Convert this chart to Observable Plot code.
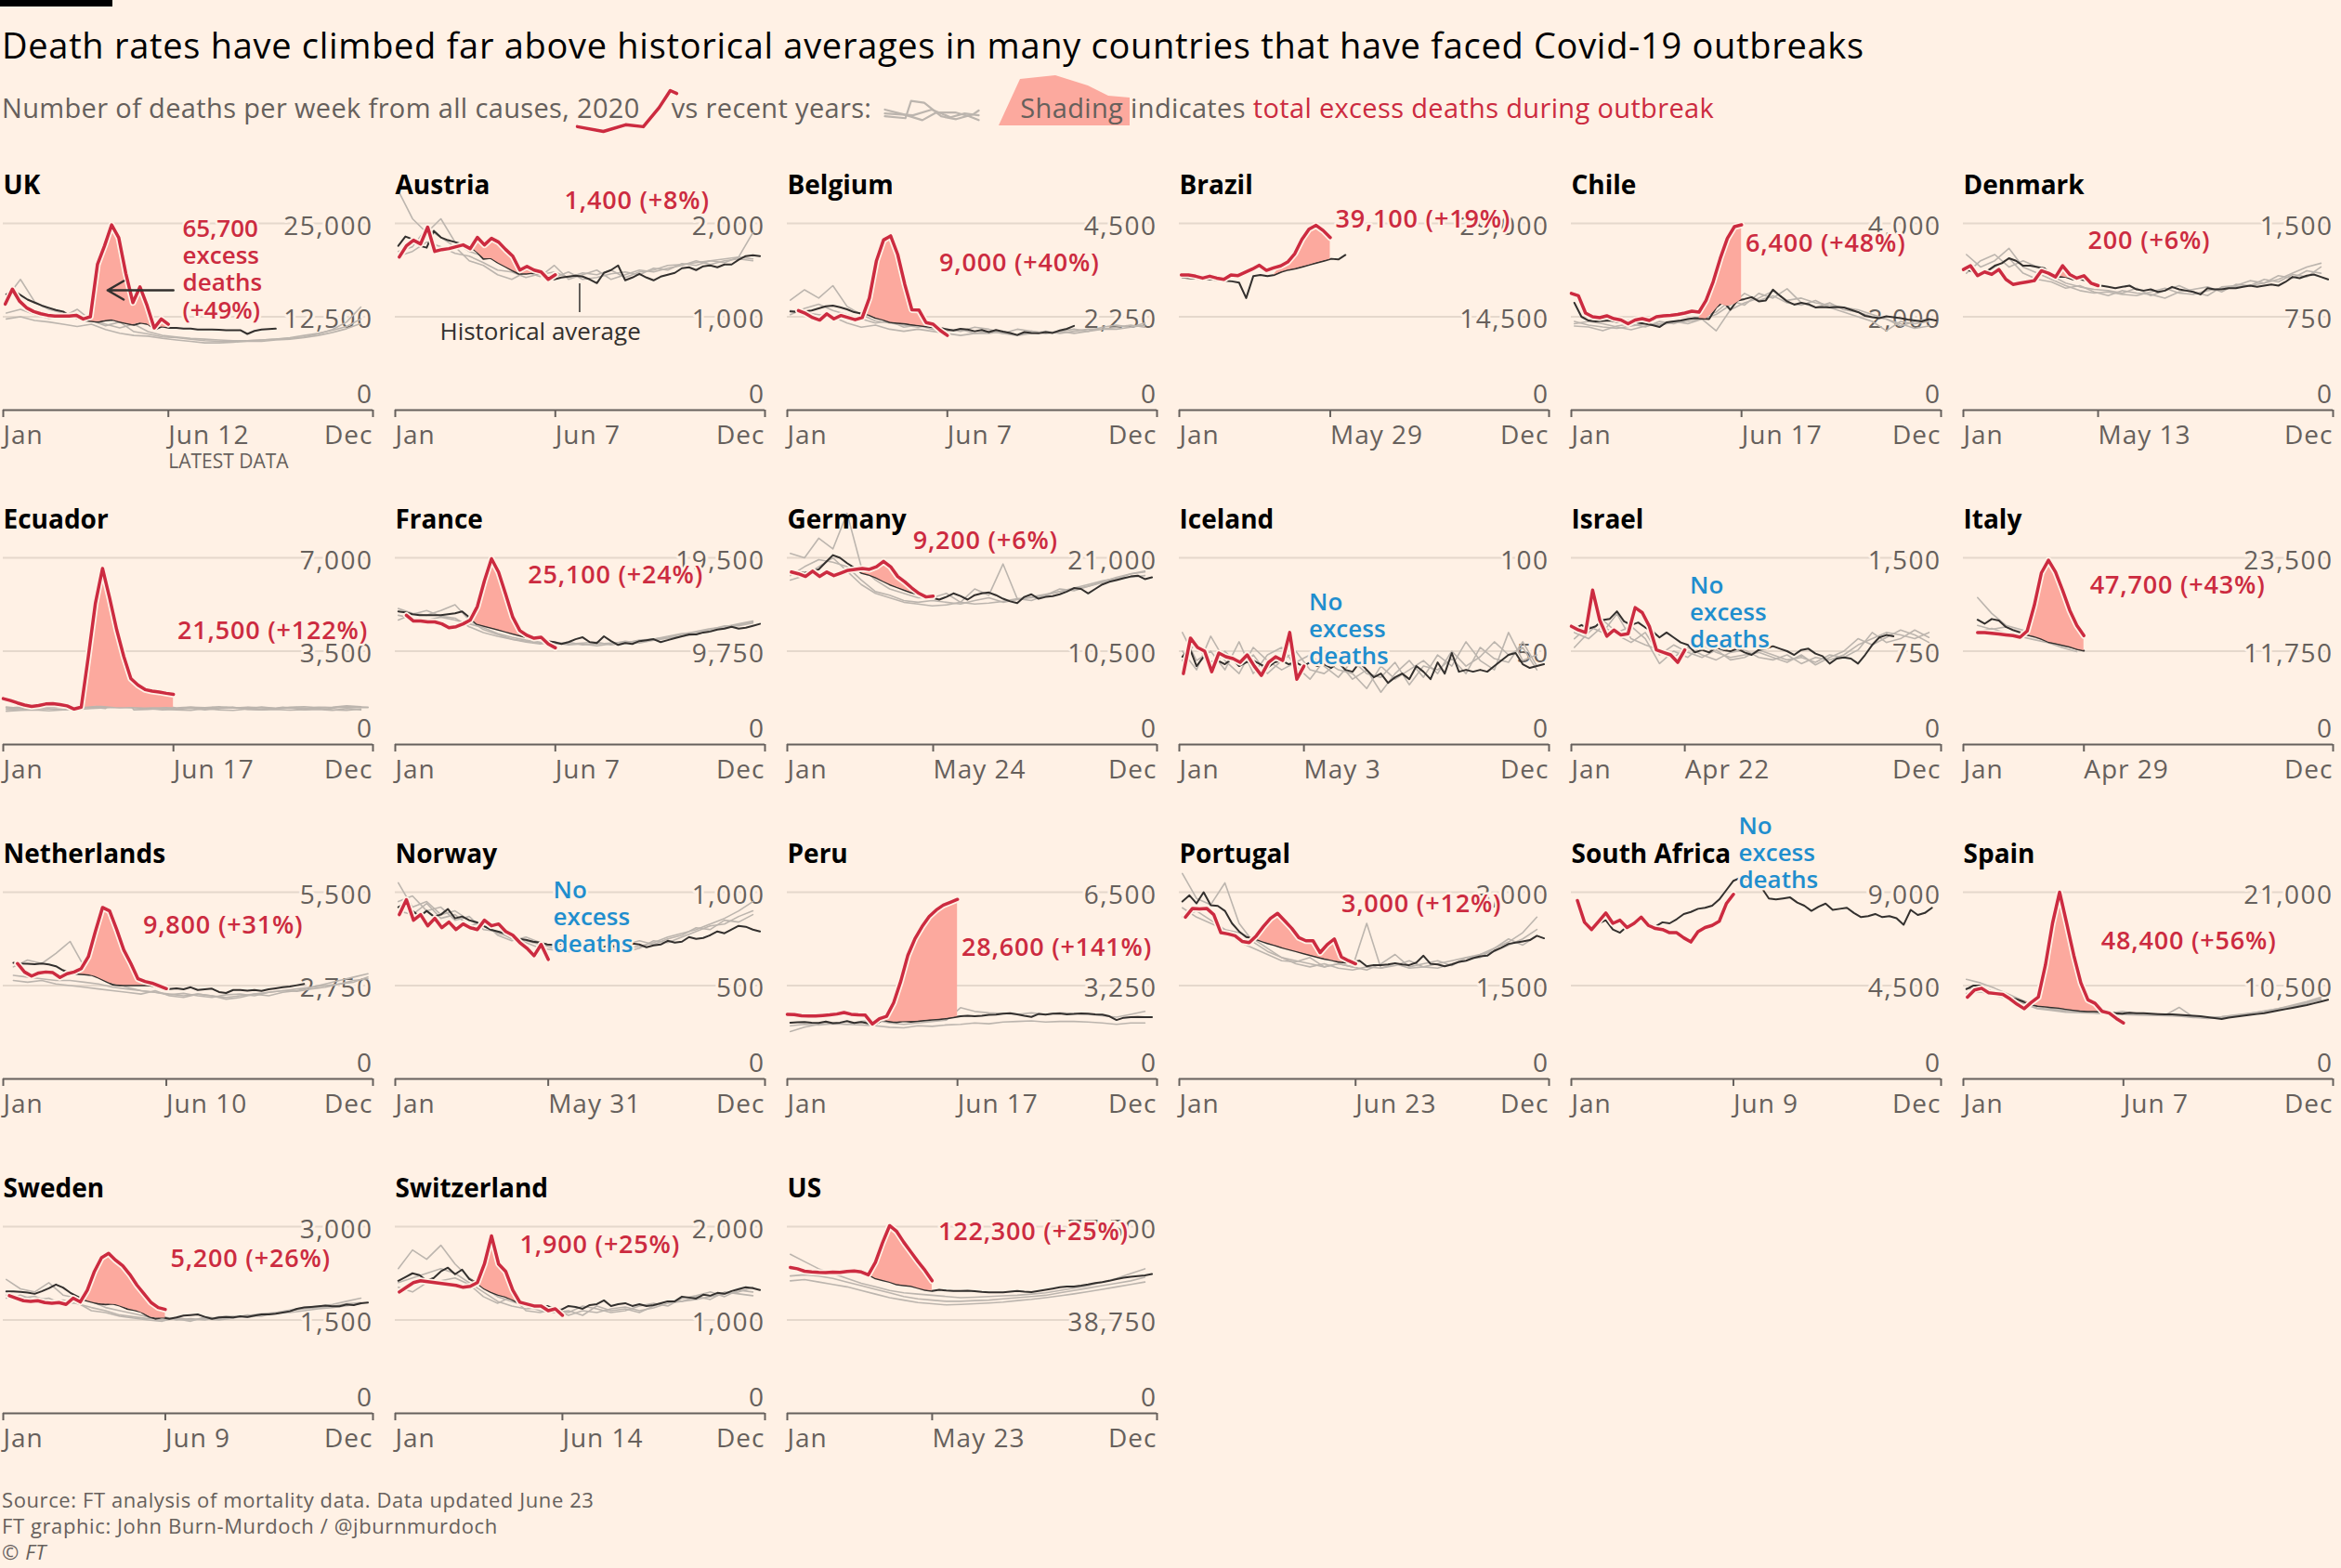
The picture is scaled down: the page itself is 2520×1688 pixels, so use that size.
<!DOCTYPE html>
<html>
<head>
<meta charset="utf-8">
<script src="https://cdn.jsdelivr.net/npm/d3@7"></script>
<script src="https://cdn.jsdelivr.net/npm/@observablehq/plot@0.6"></script>
<style>
html,body{margin:0;padding:0;background:#fff1e5;}
body{width:2520px;height:1688px;position:relative;overflow:hidden;font-family:'Open Sans',Roboto,sans-serif;}
#bar{position:absolute;left:0;top:0;width:121px;height:7px;background:#000;}
#title{position:absolute;left:2px;top:29px;font-size:38px;letter-spacing:0.7px;line-height:1;color:#000;white-space:nowrap;}
#sub{position:absolute;left:2px;top:101px;font-size:29px;letter-spacing:0.35px;line-height:1;color:#66605c;white-space:nowrap;}
#sub .t{position:relative;z-index:1;}
#sub .anc{display:inline-block;position:relative;height:1px;vertical-align:baseline;}
#sub .ic{position:absolute;z-index:0;}
#sub .red{color:#cc2b40;}
.panel{position:absolute;width:422px;height:375px;}
#foot{position:absolute;left:2px;top:1600px;font-size:22px;letter-spacing:0.6px;line-height:28px;color:#66605c;}
</style>
</head>
<body>
<div id="bar"></div>
<div id="title">Death rates have climbed far above historical averages in many countries that have faced Covid-19 outbreaks</div>
<div id="sub"><span class="t">Number of deaths per week from all causes, </span><span class="anc" style="width:0"><span class="ic" id="icRed" style="left:-2px;top:-32px"></span></span><span class="t" style="margin-right:34px">2020</span><span class="t">vs recent years:</span><span class="anc" style="width:137px"><span class="ic" id="icGrey" style="left:12px;top:-24px"></span></span><span class="anc" style="width:23px"><span class="ic" id="icShade" style="left:0;top:-45px"></span></span><span class="t">Shading</span><span class="t"> indicates </span><span class="t red">total excess deaths during outbreak</span></div>
<div id="panels"></div>
<div id="foot">Source: FT analysis of mortality data. Data updated June 23<br>FT graphic: John Burn-Murdoch / @jburnmurdoch<br>© <i>FT</i></div>
<script>
// ---------------- DATA ----------------
const countries = ["UK","Austria","Belgium","Brazil","Chile","Denmark","Ecuador","France","Germany","Iceland","Israel","Italy","Netherlands","Norway","Peru","Portugal","South Africa","Spain","Sweden","Switzerland","US"];
const topTicks = [25000,2000,4500,29000,4000,1500,7000,19500,21000,100,1500,23500,5500,1000,6500,3000,9000,21000,3000,2000,77500];
const latestData = ["Jun 12","Jun 7","Jun 7","May 29","Jun 17","May 13","Jun 17","Jun 7","May 24","May 3","Apr 22","Apr 29","Jun 10","May 31","Jun 17","Jun 23","Jun 9","Jun 7","Jun 9","Jun 14","May 23"];
const averageStarts = ["Jan 4","Jan 4","Jan 4","Jan 4","Jan 4","Jan 4","Jan 4","Jan 4","Jan 4","Jan 4","Jan 4","Jan 15","Jan 11","Jan 4","Jan 4","Jan 4","Jan 7","Jan 4","Jan 4","Jan 4","Jan 4"];
const outbreakStarts = ["Mar 20","Mar 16","Mar 19","Apr 10","May 11","Mar 15","Mar 19","Mar 22","Mar 15",null,null,"Mar 1","Mar 15",null,"Apr 5","Mar 1",null,"Mar 8","Mar 15","Mar 15","Mar 15"];
const excessLabels = ["65,700\nexcess\ndeaths\n(+49%)","1,400 (+8%)","9,000 (+40%)","39,100 (+19%)","6,400 (+48%)","200 (+6%)","21,500 (+122%)","25,100 (+24%)","9,200 (+6%)","No\nexcess\ndeaths","No\nexcess\ndeaths","47,700 (+43%)","9,800 (+31%)","No\nexcess\ndeaths","28,600 (+141%)","3,000 (+12%)","No\nexcess\ndeaths","48,400 (+56%)","5,200 (+26%)","1,900 (+25%)","122,300 (+25%)"];
const averageInGrey = ["Ecuador"];

const UK_2020 = [14200,16200,14600,13700,13200,12900,12700,12600,12600,12600,12700,12200,12500,19500,22000,24800,23100,18300,14400,16500,14000,11000,12200,11500];
const UK_AVG = [15500,16000,15400,14800,14400,14000,13700,13400,13200,12600,12300,12000,11900,11800,12000,12100,11800,11600,11400,11700,11500,10800,11200,11000,11000,10900,10900,10800,10800,10800,10750,10700,10700,10700,10200,10600,10800,10850,10900];
const UK_RECENT = [
 [15000,17500,14500,13500,13000,12500,12000,11500,11000,11500,10500,10000,9800,9600,9500,9400,9300,9300,9400,9500,9600,9800,10200,10800,11800,13800],
 [13000,13500,12800,12300,12500,13500,12000,11300,11800,10500,10200,9800,9700,9500,9300,9200,9200,9300,9400,9500,9700,10000,10300,10700,11200,12200],
 [12200,12500,12000,11800,11500,11200,11500,10800,10300,10000,9900,9600,9400,9200,9000,9000,9100,9200,9200,9400,9500,9700,10000,10400,10900,11600]];

const AUSTRIA_2020 = [1640,1760,1820,1780,1960,1700,1720,1730,1750,1770,1730,1850,1770,1840,1800,1720,1650,1500,1540,1500,1480,1400,1450];
const AUSTRIA_AVG = [1760,1860,1830,1760,1740,1920,1850,1820,1800,1780,1760,1700,1620,1630,1580,1540,1500,1460,1460,1470,1460,1435,1400,1420,1430,1440,1430,1400,1360,1470,1500,1550,1390,1420,1460,1420,1390,1430,1450,1470,1520,1530,1500,1540,1550,1530,1560,1560,1610,1650,1660,1650];
const AUSTRIA_RECENT = [
 [2350,2050,1900,2050,1800,1700,1650,1600,1550,1500,1450,1480,1420,1470,1450,1500,1420,1480,1500,1550,1560,1580,1600,1620,1640,1900],
 [1700,1750,1950,1850,1750,1600,1550,1450,1400,1480,1430,1550,1400,1450,1500,1400,1450,1500,1480,1520,1550,1600,1560,1600,1620,1600],
 [1650,1700,1800,1750,1680,1650,1580,1500,1480,1420,1460,1420,1480,1400,1420,1460,1480,1450,1520,1500,1570,1550,1600,1580,1640,1620]];

const BELGIUM_2020 = [2400,2330,2230,2170,2320,2200,2280,2230,2180,2230,2700,3600,4100,4200,3750,3030,2420,2410,2110,2070,1920,1800];
const BELGIUM_AVG = [2380,2370,2380,2400,2450,2500,2520,2480,2430,2360,2330,2300,2220,2180,2120,2100,2090,2060,2040,2020,2000,1980,1950,1920,1960,1940,1900,1930,1880,1930,1890,1860,1810,1880,1860,1850,1880,1860,1920,1960,2030];
const BELGIUM_RECENT = [
 [2650,2900,2700,3000,2500,2300,2150,2100,2050,2000,2050,1950,1900,2000,1950,1850,1950,1900,1850,1900,1950,1900,2000,2050,2000,2050],
 [2300,2450,2550,2400,2300,2200,2100,2150,2000,2050,1950,1900,1950,1850,1850,1900,1800,1850,1900,1850,1900,1950,1950,2000,2050,2000],
 [2400,2350,2300,2250,2100,2000,2050,1950,1900,1950,1900,1850,1800,1850,1900,1850,1800,1900,1850,1900,1850,1900,1950,1950,2000,2100]];

const BRAZIL_2020 = [21000,21000,20800,20500,20800,20500,20300,21000,20900,21400,21900,22500,21700,22100,22400,23000,24300,26500,28100,28700,27900,26800];
const BRAZIL_AVG = [20600,20500,20400,20300,20300,20200,20100,20000,19800,17400,20800,21000,20800,21000,21500,21800,22000,22300,22600,22900,23200,23500,23400,24100];
const BRAZIL_RECENT = [];

const CHILE_2020 = [2500,2450,2080,2000,1980,2020,1960,1930,1850,1930,1960,1920,2000,2020,2030,2050,2080,2120,2100,2350,2750,3250,3680,3930,3970];
const CHILE_AVG = [2300,2000,1920,1900,1910,1920,1890,1900,1910,1870,1850,1820,1780,1880,1900,1920,1950,1970,1960,1950,2200,2320,2150,2350,2380,2420,2330,2350,2580,2450,2330,2260,2300,2270,2200,2210,2200,2210,2200,2150,2100,2020,1990,1970,2010,1990,1970,1940,1920,1900,1950,1920];
const CHILE_RECENT = [
 [1900,1820,1780,1750,1800,1850,1820,1880,1900,1950,1700,2150,2300,2400,2550,2350,2400,2300,2250,2200,2150,2050,1950,1850,1750,1800],
 [1850,1900,1850,1780,1720,1800,1850,1900,1850,1950,2050,2250,2500,2350,2450,2300,2250,2350,2200,2100,2000,1900,1700,1900,1850,1900],
 [1800,1780,1700,1800,1850,1780,1900,1850,1950,2000,2100,2350,2250,2500,2400,2600,2300,2200,2300,2150,2100,2000,1950,1800,1900,1950]];

const DENMARK_2020 = [1130,1160,1080,1110,1090,1130,1050,1010,1020,1030,1040,1120,1100,1070,1160,1090,1060,1080,1020,1000];
const DENMARK_AVG = [1130,1110,1100,1120,1160,1180,1220,1200,1160,1160,1150,1140,1090,1070,1070,1050,1050,1040,1020,1000,990,980,990,1000,970,960,970,950,960,990,970,960,950,930,980,970,970,980,980,990,1000,990,1000,1010,1000,1030,1070,1060,1080,1090,1070,1050];
const DENMARK_RECENT = [
 [1250,1150,1200,1300,1150,1100,1050,1000,960,940,950,930,920,950,980,940,930,960,980,990,1000,1020,1050,1100,1150,1180],
 [1100,1200,1250,1150,1200,1150,1080,1020,990,970,960,940,980,920,960,1000,950,920,990,1000,1040,1020,1080,1060,1120,1100],
 [1150,1080,1150,1220,1100,1050,1030,980,1000,950,920,960,940,930,900,950,970,990,950,1010,1000,1050,1030,1090,1070,1150]];

const ECUADOR_2020 = [1720,1650,1560,1480,1430,1460,1520,1530,1500,1450,1330,1400,3300,5300,6600,5500,4300,3300,2470,2230,2060,2000,1970,1920,1880];
const ECUADOR_AVG = [1400,1380,1400,1420,1390,1400,1410,1380,1400,1420,1380,1400,1420,1450,1430,1400,1380,1390,1400,1380,1370,1390,1380,1400,1370,1380,1390,1370,1360,1380,1370,1390,1380,1360,1380,1370,1400,1380,1360,1390,1370,1380,1360,1370,1390,1380,1370,1400,1380,1390,1400,1390];
const ECUADOR_RECENT = [
 [1320,1300,1350,1330,1300,1380,1400,1350,1950,1300,1320,1350,1300,1280,1350,1300,1280,1330,1300,1320,1290,1310,1350,1300,1280,1330],
 [1250,1280,1300,1260,1300,1320,1350,1380,1400,1380,1350,1300,1320,1360,1300,1350,1400,1320,1300,1350,1380,1300,1320,1280,1350,1300],
 [1380,1350,1400,1380,1420,1400,1380,1420,1450,1430,1400,1380,1350,1400,1380,1420,1370,1400,1380,1350,1400,1420,1380,1400,1450,1420]];

const FRANCE_2020 = [13500,12900,12900,12800,12800,12600,12200,12300,12600,13000,14400,17100,19400,18000,15700,13300,11900,11400,11100,11200,10500,10100];
const FRANCE_AVG = [13900,13800,13600,13500,13500,13500,13500,13600,13700,13900,13300,12600,12400,12200,12000,11800,11600,11400,11200,11100,11000,10800,10700,10500,10700,11000,11200,10700,10600,11300,10800,10400,10600,10500,10800,10900,11000,10700,10900,11100,11300,11500,11500,11700,11800,12000,12100,12300,12100,12200,12400,12600];
const FRANCE_RECENT = [
 [14200,13700,13500,14000,14600,13000,12000,11500,11000,10800,10600,10500,10700,10400,10500,10600,10700,10800,11000,11200,11500,11800,12100,12300,12600,12900],
 [13500,13200,13000,13300,13000,12600,12200,11600,11200,10900,10700,10600,10400,10500,10300,10500,10800,10600,10900,11100,11300,11500,11900,12200,12500,12800],
 [13000,13600,14000,13400,13200,12300,11700,11300,11000,10700,10500,10700,10500,10600,10700,10400,10600,10900,11000,11300,11600,11700,12000,12400,12400,12700]];

const GERMANY_2020 = [19400,19200,18900,19500,18900,19400,19000,19300,19600,19700,19800,19700,20000,20600,20000,18900,18300,17600,17000,16600,16700];
const GERMANY_AVG = [19500,19400,19300,19500,19700,20500,21300,21000,20400,19900,19300,19100,18800,18400,18000,17700,17400,17100,16900,16800,16500,16300,16600,17000,16700,16300,16800,17000,17100,16800,16400,16100,15900,16600,16900,16400,16600,16700,16900,17200,17600,17500,17000,17500,18000,18300,18500,18700,18900,19000,18600,18800];
const GERMANY_RECENT = [
 [21500,21000,23200,22000,26000,20000,18500,17500,17000,16500,16500,17000,16000,17500,16800,20300,16400,16500,16800,17200,17500,17800,18300,18800,19200,19500],
 [19000,20000,20800,20500,20000,18500,17200,16800,16200,16000,16200,16000,15800,16200,16500,16000,16300,16600,16900,17200,17600,18000,18400,18700,18800,19000],
 [18500,19000,20000,21000,19500,18000,17000,16500,16000,15800,15600,15700,16000,15800,15900,16100,16400,16200,16800,17500,17300,17800,18200,18600,19200,19400]];

const ICELAND_2020 = [38,57,52,50,39,49,47,46,44,48,42,37,44,47,45,60,35,42];
const ICELAND_AVG = [47,52,42,47,44,45,43,46,42,44,45,43,41,44,45,43,44,42,44,42,43,41,44,40,39,44,40,36,38,33,36,38,35,42,39,35,44,38,49,39,40,39,40,39,42,45,48,49,43,41,42,43];
const ICELAND_RECENT = [
 [60,45,50,40,55,38,48,52,42,35,45,40,38,30,42,35,40,45,38,50,42,47,55,48,52,40],
 [45,55,40,50,42,48,38,45,50,40,38,44,35,40,28,38,45,36,48,42,55,45,40,60,45,48],
 [50,40,58,45,38,52,45,40,44,48,42,36,45,38,36,44,32,42,40,46,38,52,46,44,55,42]];

const ISRAEL_2020 = [950,920,900,1240,1000,870,920,880,890,1100,1060,950,760,740,720,660,760];
const ISRAEL_AVG = [930,960,930,950,1000,1010,1070,990,960,980,940,910,860,900,860,820,800,740,760,740,780,760,750,770,740,720,760,770,790,770,750,720,760,770,730,710,650,690,700,690,650,720,800,860,880,870];
const ISRAEL_RECENT = [
 [850,950,900,1050,850,800,760,700,780,720,680,740,760,700,680,720,650,700,680,720,800,850,900,880,850,900],
 [780,900,1000,900,950,850,650,750,700,800,740,700,720,740,700,660,720,640,700,750,850,800,860,920,880,820],
 [900,850,950,880,820,900,720,800,740,700,760,680,700,760,720,680,700,660,720,700,760,900,820,850,920,860]];

const ITALY_2020 = [14100,14100,14000,13900,13800,13700,13500,14300,17500,21600,23200,21700,19400,16900,15000,13700];
const ITALY_AVG = [15700,15200,15800,15600,14800,14400,14100,13800,13600,13300,12900,12700,12500,12300,12000,11800];
const ITALY_RECENT = [
 [18500,16500,15000,14500,14000,13200,12600,12000],
 [15000,14500,14800,14200,13500,13000,12400,12100],
 [14200,14600,14000,13600,13200,12800,12200,11700]];

const NETHERLANDS_2020 = [3400,3150,3030,3120,3150,3130,2990,3100,3150,3250,3600,4350,5050,4950,4400,3800,3400,2950,2870,2820,2740,2660];
const NETHERLANDS_AVG = [3420,3400,3390,3380,3400,3370,3320,3200,3120,3090,3080,3060,2980,2880,2780,2760,2760,2760,2760,2760,2720,2680,2650,2670,2640,2700,2620,2640,2660,2560,2530,2620,2620,2600,2620,2590,2640,2670,2700,2720,2760,2800];
const NETHERLANDS_RECENT = [
 [3300,3500,3400,3700,4050,3300,3000,2850,2700,2600,2550,2500,2450,2500,2450,2400,2450,2500,2550,2600,2650,2700,2800,2900,3000,3100],
 [3050,3000,2950,2900,2900,2850,2800,2700,2650,2600,2550,2480,2520,2450,2400,2480,2500,2450,2550,2600,2580,2650,2700,2800,2900,2950],
 [2900,2850,2900,2800,2750,2700,2650,2600,2550,2500,2600,2450,2400,2500,2450,2350,2400,2500,2450,2550,2600,2700,2750,2800,2850,3000]];

const NORWAY_2020 = [880,960,850,880,820,860,810,840,800,830,810,800,850,820,830,790,770,730,700,660,720,640];
const NORWAY_AVG = [920,940,900,870,900,870,880,910,860,870,850,840,820,800,790,780,770,750,745,735,730,720,718,725,720,730,720,710,720,705,715,700,710,725,720,705,715,720,740,730,735,760,750,755,770,790,780,800,820,815,800,790];
const NORWAY_RECENT = [
 [1050,920,950,880,900,850,820,780,760,730,700,690,710,680,700,720,700,710,730,760,780,800,830,860,900,950],
 [950,980,900,920,850,870,800,790,750,740,720,700,680,700,720,690,720,740,720,750,770,810,800,850,840,880],
 [900,880,940,860,880,820,840,770,740,760,730,710,700,690,710,700,680,700,740,730,760,790,820,830,870,900]];

const PERU_2020 = [2250,2240,2200,2190,2190,2210,2230,2260,2310,2250,2230,2220,1910,2100,2180,2650,3400,4300,4880,5300,5650,5880,6050,6150,6250];
const PERU_AVG = [1960,1970,1980,1960,1950,2000,1940,1960,2010,1950,1980,1930,1900,2050,2000,1970,2010,1990,2010,2040,2060,2080,2100,2140,2180,2200,2180,2200,2230,2240,2270,2290,2250,2200,2160,2260,2240,2270,2280,2250,2260,2280,2270,2250,2240,2180,2050,2130,2150,2160,2150,2150];
const PERU_RECENT = [
 [1650,1800,1900,1950,1900,2000,2050,1950,1900,1950,2000,2050,2480,2350,2300,2280,2250,2300,2250,2300,2280,2250,2200,2150,2250,2350],
 [1850,1900,1880,1920,1900,1880,1850,1800,1780,1850,1830,1880,1900,1950,1920,1980,2000,2020,1980,2000,2000,1980,1950,1900,1950,1950]];

const PORTUGAL_2020 = [2600,2740,2730,2740,2640,2350,2330,2300,2210,2190,2300,2450,2580,2660,2540,2420,2270,2220,2220,2030,2160,2250,1960,1900,1850];
const PORTUGAL_AVG = [2850,2950,2820,3000,2790,2780,2700,2500,2370,2280,2260,2220,2180,2150,2110,2080,2050,2020,1990,1960,1930,1910,1880,1870,1880,1900,1810,1830,1830,1840,1860,1840,1830,1870,1980,1850,1840,1810,1840,1880,1900,1940,1970,1980,2060,2110,2170,2190,2210,2230,2300,2260];
const PORTUGAL_RECENT = [
 [3300,2900,2800,3150,2500,2200,2050,1950,1900,1850,1800,1850,1800,2500,1780,1850,1780,1800,1850,1900,1950,2000,2100,2200,2350,2600],
 [2750,2600,2500,2400,2350,2250,2100,1950,1850,1800,1850,1780,1750,1800,1780,1820,1900,1800,1780,1850,1900,2000,2050,2150,2250,2400],
 [2600,2700,2550,2400,2200,2100,2000,1900,1880,1950,1800,1850,1800,1750,1850,2000,1800,1850,1900,1820,1950,1950,2100,2250,2150,2300]];

const SOUTH_AFRICA_2020 = [8600,7550,7200,7600,8000,7500,7650,7300,7500,7800,7400,7250,7200,7050,7050,6800,6600,7100,7300,7400,7600,8450,8900];
const SOUTH_AFRICA_AVG = [8500,7500,7150,7500,7650,7200,7050,7350,7600,7700,7500,7350,7550,7500,7700,7950,8050,8200,8250,8350,8650,9100,9550,9700,9600,9400,9200,8700,8650,8700,8750,8500,8350,8100,8300,8450,8150,8200,8250,8000,7800,7850,7950,7800,7850,7750,7430,8150,7900,8000,8250];
const SOUTH_AFRICA_RECENT = [];

const SPAIN_2020 = [9200,10000,10200,9700,9600,9500,9000,8400,7900,8600,9200,12800,17500,21000,17500,13900,10800,8900,8500,7600,7400,6800,6300];
const SPAIN_AVG = [10100,10500,10500,10000,9700,9500,9200,9000,8700,8400,8200,8150,8050,8000,7850,7750,7650,7600,7600,7550,7500,7400,7350,7450,7400,7380,7350,7300,7250,7250,7200,7150,7100,7050,6950,6850,6750,6900,7000,7100,7200,7300,7400,7550,7700,7850,8000,8150,8300,8500,8700,8900];
const SPAIN_RECENT = [
 [11200,10800,10200,9500,8800,8200,7900,7700,7600,7500,7400,7600,7300,7250,7200,7100,7000,6850,7000,7200,7400,7600,7900,8300,8700,9200],
 [10200,10000,9800,9200,8600,8000,7800,7600,7500,7450,7350,7300,7250,7200,7150,8050,6950,6800,6900,7100,7300,7500,7800,8100,8500,8900],
 [9600,9800,9400,9000,8500,7900,7700,7500,7450,7400,7300,7250,7200,7150,7100,7050,6900,6900,7000,7150,7350,7650,7900,8200,8600,9000]];

const SWEDEN_2020 = [1890,1850,1810,1800,1810,1780,1770,1780,1750,1850,1790,1980,2280,2500,2570,2460,2370,2230,2060,1920,1780,1700,1670];
const SWEDEN_AVG = [1960,1960,1950,1940,1920,1960,2010,2070,2020,1940,1880,1820,1790,1760,1750,1760,1730,1680,1660,1630,1560,1520,1540,1520,1540,1570,1580,1590,1550,1520,1540,1550,1540,1560,1550,1570,1590,1590,1600,1620,1640,1680,1700,1710,1720,1730,1720,1720,1750,1740,1770,1780];
const SWEDEN_RECENT = [
 [2150,2000,1950,2100,1900,1850,1800,1700,1650,1600,1550,1500,1520,1480,1550,1520,1540,1570,1600,1620,1660,1700,1720,1750,1800,1850],
 [1900,1850,1880,1800,1820,1760,1700,1650,1580,1550,1520,1560,1500,1520,1500,1550,1560,1540,1580,1600,1650,1680,1700,1720,1760,1780],
 [1850,1900,1820,1850,1750,1780,1650,1620,1560,1530,1500,1480,1540,1500,1520,1500,1530,1580,1560,1620,1620,1650,1680,1700,1730,1760]];

const SWITZERLAND_2020 = [1300,1350,1400,1420,1410,1400,1390,1380,1370,1350,1360,1400,1600,1900,1600,1520,1320,1190,1170,1150,1150,1100,1120,1050];
const SWITZERLAND_AVG = [1420,1460,1500,1480,1420,1450,1520,1560,1490,1540,1440,1400,1340,1300,1270,1250,1220,1180,1170,1165,1150,1150,1120,1110,1150,1140,1120,1160,1170,1210,1150,1170,1180,1150,1170,1150,1160,1180,1200,1200,1250,1240,1230,1270,1260,1290,1280,1310,1330,1350,1340,1320];
const SWITZERLAND_RECENT = [
 [1550,1750,1650,1800,1600,1450,1350,1250,1200,1150,1100,1080,1100,1050,1150,1100,1120,1080,1150,1200,1200,1220,1250,1280,1300,1350],
 [1400,1450,1500,1550,1500,1400,1300,1200,1150,1120,1130,1100,1080,1150,1120,1080,1100,1150,1180,1150,1230,1260,1300,1250,1320,1300],
 [1350,1300,1400,1420,1450,1380,1250,1180,1250,1100,1080,1120,1050,1100,1080,1120,1140,1100,1130,1180,1200,1250,1220,1300,1280,1260]];

const US_2020 = [60500,60000,59000,58700,58500,58400,58600,58500,58900,59100,58700,57500,62700,70800,77900,75500,71000,67000,63000,59300,55000];
const US_AVG = [60000,59800,59300,58900,58600,58400,58500,58400,58700,58800,58500,57600,56000,55200,54500,53500,53100,52800,52000,51200,50800,51300,51000,50800,50800,50900,50700,50400,50200,50200,50200,50500,50800,50500,50300,50800,51300,51800,52300,52600,52600,53000,53500,54100,54500,55000,55700,56300,56700,57000,57300,57800];
const US_RECENT = [
 [66000,63000,60000,58000,56000,54000,52500,51000,50000,49500,49000,48500,48000,48200,48500,48800,49000,49500,50000,51000,52000,53000,54500,56000,58000,60000],
 [57000,57500,57000,56000,54500,53000,51500,50000,48500,47500,47000,46500,46500,46800,47000,47500,48000,48500,49000,50000,51000,52000,53000,54000,55000,56500],
 [55000,55500,54500,53500,52500,51000,49500,48000,47000,46000,45500,45000,45200,45500,45800,46200,46800,47300,48000,48800,49600,50500,51500,52500,53500,54500]];

// legend glyphs in the subtitle
const legendRedX = [0,28,52,71,88,100,107];
const legendRedY = [5,0,7,5,25,43,40];
const legendGreyX = [[0,22,28,42,60,76,94,100],[0,20,40,55,75,90,100],[0,30,50,70,85,100]];
const legendGreyY = [[8,6,24,22,8,5,10,14],[15,10,4,12,12,8,4],[11,9,15,7,11,9]];
const legendShadeX = [0,23,61,96,118,141];
const legendShadeY = [0,50,54,43,32,30];

// annotation placement: [country, day of year, value]
const notePlacement = [
 ["UK",177,18900],["Austria",167,2249],["Belgium",150,3560],["Brazil",154,29720],["Chile",172,3582],["Denmark",123,1366],
 ["Ecuador",172,4284],["France",131,17754],["Germany",124,22985],["Iceland",128,62.2],["Israel",117,1067],["Italy",125,20110],
 ["Netherlands",138,4542],["Norway",156,871],["Peru",172,4592],["Portugal",160,2821],["South Africa",165,10925],["Spain",136,15567],
 ["Sweden",165,2493],["Switzerland",123,1811],["US",149,75572]];

// ---------------- TABLE ----------------
const SERIES = {
 "UK":[UK_2020,UK_AVG,UK_RECENT], "Austria":[AUSTRIA_2020,AUSTRIA_AVG,AUSTRIA_RECENT], "Belgium":[BELGIUM_2020,BELGIUM_AVG,BELGIUM_RECENT],
 "Brazil":[BRAZIL_2020,BRAZIL_AVG,BRAZIL_RECENT], "Chile":[CHILE_2020,CHILE_AVG,CHILE_RECENT], "Denmark":[DENMARK_2020,DENMARK_AVG,DENMARK_RECENT],
 "Ecuador":[ECUADOR_2020,ECUADOR_AVG,ECUADOR_RECENT], "France":[FRANCE_2020,FRANCE_AVG,FRANCE_RECENT], "Germany":[GERMANY_2020,GERMANY_AVG,GERMANY_RECENT],
 "Iceland":[ICELAND_2020,ICELAND_AVG,ICELAND_RECENT], "Israel":[ISRAEL_2020,ISRAEL_AVG,ISRAEL_RECENT], "Italy":[ITALY_2020,ITALY_AVG,ITALY_RECENT],
 "Netherlands":[NETHERLANDS_2020,NETHERLANDS_AVG,NETHERLANDS_RECENT], "Norway":[NORWAY_2020,NORWAY_AVG,NORWAY_RECENT], "Peru":[PERU_2020,PERU_AVG,PERU_RECENT],
 "Portugal":[PORTUGAL_2020,PORTUGAL_AVG,PORTUGAL_RECENT], "South Africa":[SOUTH_AFRICA_2020,SOUTH_AFRICA_AVG,SOUTH_AFRICA_RECENT], "Spain":[SPAIN_2020,SPAIN_AVG,SPAIN_RECENT],
 "Sweden":[SWEDEN_2020,SWEDEN_AVG,SWEDEN_RECENT], "Switzerland":[SWITZERLAND_2020,SWITZERLAND_AVG,SWITZERLAND_RECENT], "US":[US_2020,US_AVG,US_RECENT]
};

// ---------------- STYLE ----------------
const FONT = "'Open Sans', Roboto, sans-serif";
const BG = "#fff1e5", RED = "#cc2b40", PINK = "#fca99e", GREY = "#bcb5ae", DARK = "#33302e", TEXT = "#66605c", GRID = "#e5d8cc", BLUE = "#1f8ece";
const MONTHS = ["Jan","Feb","Mar","Apr","May","Jun","Jul","Aug","Sep","Oct","Nov","Dec"];
const parseDay = s => { const [m, d] = s.split(" "); return new Date(Date.UTC(2020, MONTHS.indexOf(m), +d)); };
const shift = (dt, n) => new Date(dt.getTime() + n * 86400000);
const fromDoy = n => new Date(Date.UTC(2020, 0, 1 + n));
const JAN1 = new Date(Date.UTC(2020, 0, 1)), DEC31 = new Date(Date.UTC(2020, 11, 31));
const fmt = d3.format(",");
const svgStyle = {background: "none", overflow: "visible", maxWidth: "none", fontFamily: FONT};

// ---------------- LEGEND GLYPHS ----------------
document.getElementById("icRed").append(Plot.plot({
  width: 111, height: 50, marginLeft: 2, marginRight: 2, marginTop: 3, marginBottom: 3,
  x: {domain: [0, 107], axis: null}, y: {domain: [0, 43], axis: null}, style: svgStyle,
  marks: [Plot.line(legendRedX.map((x, i) => ({x, y: legendRedY[i]})), {x: "x", y: "y", stroke: RED, strokeWidth: 3.5})]
}));
document.getElementById("icGrey").append(Plot.plot({
  width: 105, height: 34, marginLeft: 2, marginRight: 2, marginTop: 3, marginBottom: 3,
  x: {domain: [0, 100], axis: null}, y: {domain: [0, 27], axis: null}, style: svgStyle,
  marks: [Plot.line(legendGreyX.flatMap((xs, k) => xs.map((x, i) => ({x, y: legendGreyY[k][i], k}))), {x: "x", y: "y", z: "k", stroke: GREY, strokeWidth: 2.2})]
}));
document.getElementById("icShade").append(Plot.plot({
  width: 143, height: 54, marginLeft: 0, marginRight: 2, marginTop: 0, marginBottom: 0,
  x: {domain: [0, 141], axis: null}, y: {domain: [0, 54], axis: null}, style: svgStyle,
  marks: [Plot.areaY(legendShadeX.map((x, i) => ({x, y: legendShadeY[i]})), {x: "x", y: "y", fill: PINK})]
}));

// ---------------- PANELS ----------------
const host = document.getElementById("panels");
countries.forEach((name, idx) => {
  const col = idx % 6, row = Math.floor(idx / 6);
  const [s2020, sAvg, sRecent] = SERIES[name];
  const T = topTicks[idx];
  const latest = parseDay(latestData[idx]);
  const aStart = parseDay(averageStarts[idx]);
  const red = s2020.map((v, i) => ({date: shift(latest, -7 * (s2020.length - 1 - i)), v}));
  const avg = sAvg.map((v, i) => ({date: shift(aStart, 7 * i), v}));
  const recent = sRecent.flatMap((s, k) => s.map((v, i) => ({date: shift(aStart, 14 * i), v, k})));
  const avgAt = dt => {
    const t = +dt;
    if (t <= +avg[0].date) return avg[0].v;
    for (let i = 1; i < avg.length; i++) {
      if (t <= +avg[i].date) {
        const a = avg[i - 1], b = avg[i];
        const f = (t - a.date) / (b.date - a.date);
        return a.v + (b.v - a.v) * f;
      }
    }
    return avg[avg.length - 1].v;
  };
  let shade = [];
  if (outbreakStarts[idx]) {
    const ob = parseDay(outbreakStarts[idx]);
    const first = red.findIndex(d => d.date >= ob);
    shade = red.slice(Math.max(0, first - 1)).map((d, j) => {
      const lo = avgAt(d.date);
      return {date: d.date, lo, hi: (j === 0 && first > 0) ? lo : Math.max(lo, d.v)};
    });
  }
  const [, nDay, nVal] = notePlacement.find(n => n[0] === name);
  const note = excessLabels[idx];
  const isBlue = note.startsWith("No");
  const multiLine = note.includes("\n");
  const marks = [
    Plot.ruleY([T / 2, T], {stroke: GRID, strokeWidth: 2}),
    Plot.text([T, T / 2], {y: d => d, text: d => fmt(d), frameAnchor: "right", textAnchor: "end", lineAnchor: "bottom", dy: 12, fontSize: 28, fill: TEXT, stroke: BG, strokeWidth: 6}),
    Plot.text([0], {y: d => d, text: d => fmt(d), frameAnchor: "right", textAnchor: "end", lineAnchor: "bottom", dy: -8, fontSize: 28, fill: TEXT}),
    Plot.line(recent, {x: "date", y: "v", z: "k", stroke: GREY, strokeWidth: 1.6}),
    Plot.line(avg, {x: "date", y: "v", stroke: averageInGrey.includes(name) ? GREY : DARK, strokeWidth: 2}),
    Plot.areaY(shade, {x: "date", y1: "lo", y2: "hi", fill: PINK}),
    Plot.line(red, {x: "date", y: "v", stroke: BG, strokeWidth: 7}),
    Plot.line(red, {x: "date", y: "v", stroke: RED, strokeWidth: 3.5}),
    Plot.ruleY([0], {stroke: TEXT, strokeWidth: 2}),
    Plot.axisX({ticks: [JAN1, latest, DEC31], tickSize: 8, tickFormat: () => "", stroke: TEXT, strokeWidth: 2, label: null}),
    Plot.text(["Jan"], {text: d => d, frameAnchor: "bottom-left", textAnchor: "start", lineAnchor: "bottom", dy: 36, fontSize: 28, fill: TEXT}),
    Plot.text(["Dec"], {text: d => d, frameAnchor: "bottom-right", textAnchor: "end", lineAnchor: "bottom", dy: 36, fontSize: 28, fill: TEXT}),
    Plot.text([latest], {x: d => d, text: () => latestData[idx], frameAnchor: "bottom", textAnchor: "start", lineAnchor: "bottom", dy: 36, fontSize: 28, fill: TEXT}),
    Plot.text([name], {text: d => d, frameAnchor: "top-left", textAnchor: "start", lineAnchor: "bottom", dy: -32, fontSize: 28, fontWeight: 700, fill: "#000"}),
    Plot.text([note], {x: () => fromDoy(nDay), y: () => nVal, text: d => d, textAnchor: "start", lineAnchor: "middle", lineHeight: 1.12, fontSize: multiLine ? 26 : 27, fontWeight: 600, fill: isBlue ? BLUE : RED, stroke: BG, strokeWidth: 5})
  ];
  if (name === "UK") {
    marks.push(Plot.arrow([0], {x1: () => fromDoy(168), y1: () => 16045, x2: () => fromDoy(103), y2: () => 16045, stroke: DARK, strokeWidth: 2.5, headLength: 12}));
    marks.push(Plot.text([latest], {x: d => d, text: () => "LATEST DATA", frameAnchor: "bottom", textAnchor: "start", lineAnchor: "bottom", dy: 62, fontSize: 21, fill: TEXT}));
  }
  if (name === "Austria") {
    marks.push(Plot.ruleX([0], {x: () => fromDoy(182), y1: () => 1045, y2: () => 1353, stroke: DARK, strokeWidth: 1.5}));
    marks.push(Plot.text(["Historical average"], {x: () => fromDoy(44), y: () => 836, text: d => d, textAnchor: "start", lineAnchor: "middle", fontSize: 26, fill: DARK, stroke: BG, strokeWidth: 4}));
  }
  const chart = Plot.plot({
    width: 422, height: 375, marginLeft: 3, marginRight: 21, marginTop: 100, marginBottom: 74,
    x: {type: "utc", domain: [JAN1, DEC31]},
    y: {domain: [0, T], axis: null},
    style: svgStyle,
    marks
  });
  // typographic spacing to match the wider figures of the original typeface
  chart.querySelectorAll("text").forEach(t => {
    const s = t.textContent;
    if (/^[\d,]+$/.test(s)) t.style.letterSpacing = "1.5px";
    else if (s === "Jan" || s === "Dec" || s === latestData[idx]) t.style.letterSpacing = "1px";
  });
  if (!multiLine) chart.querySelectorAll(`g[fill="${RED}"] text`).forEach(t => { t.style.letterSpacing = "0.8px"; });
  const div = document.createElement("div");
  div.className = "panel";
  div.style.left = (422 * col) + "px";
  div.style.top = (140 + 360 * row) + "px";
  div.append(chart);
  host.append(div);
});
</script>
</body>
</html>
